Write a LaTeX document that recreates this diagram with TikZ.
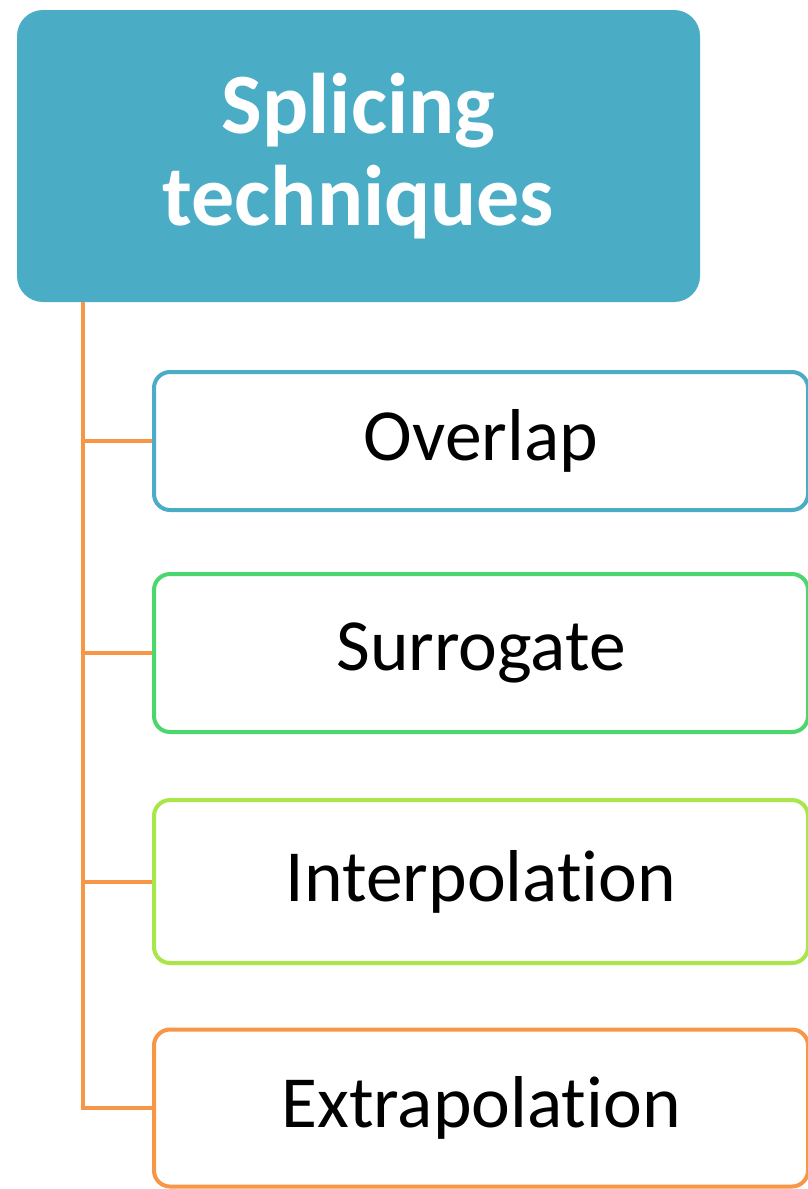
\documentclass[tikz,border=0pt]{standalone}
\usepackage{fontspec}
\setmainfont{Carlito}[Ligatures=NoCommon]
\usetikzlibrary{positioning,calc}
\definecolor{teal1}{HTML}{4BACC6}
\definecolor{green1}{HTML}{4CD66E}
\definecolor{lime1}{HTML}{A8E64A}
\definecolor{orange1}{HTML}{F79646}

\begin{document}
\begin{tikzpicture}[
    x=1pt, y=-1pt,
    head/.style={rectangle, rounded corners=26pt, fill=teal1, text=white, minimum width=683pt, minimum height=292pt, align=center, font=\fontsize{86}{92}\selectfont\bfseries},
    item/.style={rectangle, rounded corners=16pt, draw=#1, line width=4pt, fill=white, minimum width=654pt, align=center, font=\fontsize{73.5}{84}\selectfont},
    branch/.style={draw=orange1, line width=4pt}
]
    \useasboundingbox (0,0) rectangle (807,1189);

    % Title box
    \node[head] (title) at (358.5,156) {Splicing\\techniques};

    % Technique boxes
    \node[item=teal1, minimum height=138pt] (overlap) at (481,441) {Overlap};
    \node[item=green1, minimum height=158pt] (surrogate) at (481,653) {Surrogate};
    \node[item=lime1, minimum height=163pt] (interp) at (481,881.5) {Interpolation};
    \node[item=orange1, minimum height=157pt] (extra) at (481,1108) {Extrapolation};

    % Tree lines
    \coordinate (root) at ([xshift=66pt]title.south west);
    \draw[branch] (root) |- (extra.west);
    \foreach \n in {overlap,surrogate,interp}
        \draw[branch] (root |- \n.west) -- (\n.west);
\end{tikzpicture}
\end{document}
